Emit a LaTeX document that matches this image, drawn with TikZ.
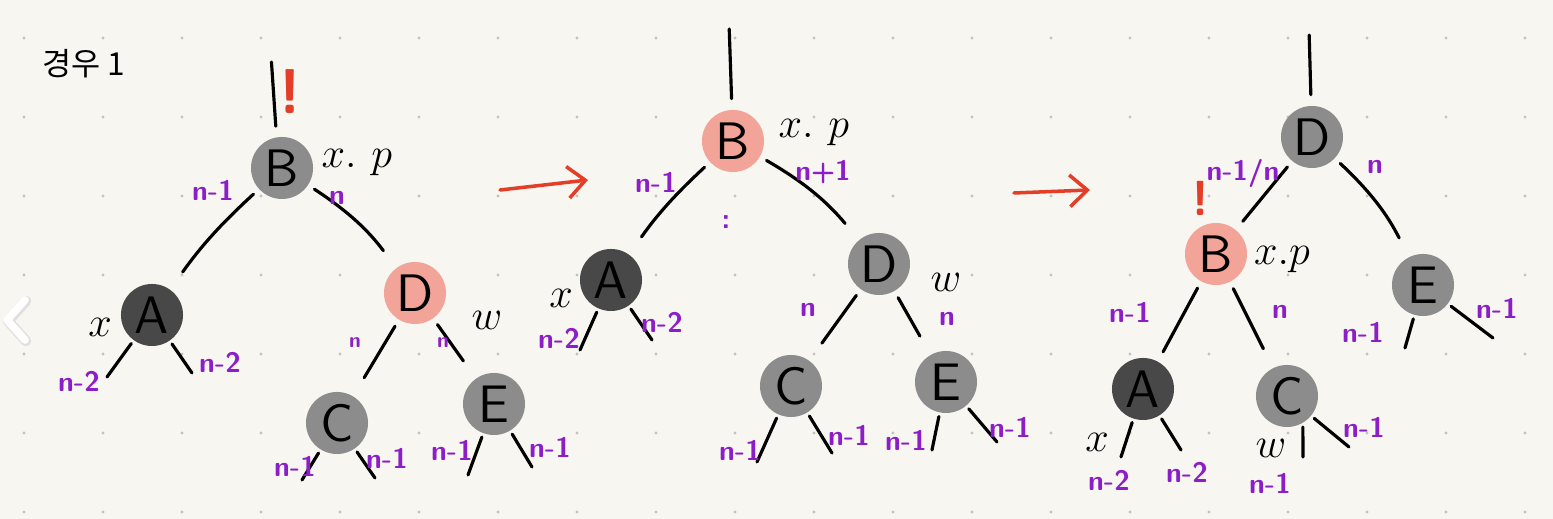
\documentclass[tikz,border=0pt]{standalone}
\usepackage{fontspec}
\newfontfamily\krfont{Noto Sans CJK KR}
\usetikzlibrary{arrows.meta}

\definecolor{paper}{RGB}{248,246,241}
\definecolor{griddot}{RGB}{196,194,190}
\definecolor{nodegray}{RGB}{140,140,140}
\definecolor{nodedark}{RGB}{72,72,72}
\definecolor{nodepink}{RGB}{242,164,152}
\definecolor{penred}{RGB}{228,62,40}
\definecolor{penviolet}{RGB}{140,30,200}

\begin{document}
\begin{tikzpicture}[
  x=0.01cm, y=-0.01cm,
  rbnode/.style={circle, minimum size=0.62cm, inner sep=0pt, font=\sffamily\fontsize{15}{15}\selectfont},
  graynode/.style={rbnode, fill=nodegray},
  darknode/.style={rbnode, fill=nodedark},
  pinknode/.style={rbnode, fill=nodepink},
  link/.style={line width=0.9pt, line cap=round, shorten <=2pt, shorten >=6pt},
  stub/.style={line width=0.9pt, line cap=round, shorten <=1pt},
  cnt/.style={font=\sffamily\bfseries\fontsize{8}{9}\selectfont, text=penviolet, inner sep=0pt},
  tinycnt/.style={cnt, font=\sffamily\bfseries\fontsize{6}{6}\selectfont},
  ptr/.style={font=\fontsize{13}{13}\selectfont, inner sep=0pt},
  bang/.style={text=penred, font=\sffamily\bfseries\fontsize{18}{18}\selectfont, inner sep=0pt},
  turn/.style={-{Straight Barb[length=5pt, width=9pt]}, penred, line width=1pt, line cap=round}
]

% paper and dot grid
\fill[paper] (0,0) rectangle (1553,519);
\useasboundingbox (0,0) rectangle (1553,519);
\foreach \i in {0,...,19}
  \foreach \j in {0,...,6}
    \fill[griddot] (24+79*\i, 38+79*\j) circle (0.45pt);
\draw[gray!25, line width=3pt, line cap=round, line join=round] (26,301) -- (8,321) -- (26,341);
\draw[white, line width=2.2pt, line cap=round, line join=round] (25,300) -- (7,320) -- (25,340);

\node[font=\krfont\fontsize{9}{9}\selectfont] (title) at (84,64) {경우 1};

% case 1, before
\coordinate (top1) at (271,55);
\node[graynode] (b1) at (282,168) {B};
\node[darknode] (a1) at (152,315) {A};
\node[pinknode] (d1) at (415,293) {D};
\node[graynode] (c1) at (337,423) {C};
\node[graynode] (e1) at (494,404) {E};
\coordinate (a1l) at (107,377);
\coordinate (a1r) at (192,373);
\coordinate (c1l) at (302,480);
\coordinate (c1r) at (375,478);
\coordinate (e1l) at (468,475);
\coordinate (e1r) at (532,467);

\draw[link, shorten >=3pt] (top1) -- (b1.100);
\draw[link] (b1) to[bend right=6] (a1);
\draw[link] (b1) to[bend left=10] (d1);
\draw[link] (d1) -- (c1);
\draw[link] (d1) -- (e1);
\draw[stub] (a1) -- (a1l);
\draw[stub] (a1) -- (a1r);
\draw[stub] (c1) -- (c1l);
\draw[stub] (c1) -- (c1r);
\draw[stub] (e1) -- (e1l);
\draw[stub] (e1) -- (e1r);

\node[bang] (bang1) at (290,92) {!};
\node[ptr] (xp1) at (357,163) {$x.\ p$};
\node[ptr] (x1) at (100,327) {$x$};
\node[ptr] (w1) at (487,320) {$w$};
\node[cnt] (h1) at (213,190) {n-1};
\node[cnt] (h2) at (337,198) {n};
\node[cnt] (h3) at (79,381) {n-2};
\node[cnt] (h4) at (220,362) {n-2};
\node[tinycnt] (h5) at (355,343) {n};
\node[tinycnt] (h6) at (443,343) {n};
\node[cnt] (h7) at (295,466) {n-1};
\node[cnt] (h8) at (387,458) {n-1};
\node[cnt] (h9) at (452,450) {n-1};
\node[cnt] (h10) at (550,447) {n-1};

\coordinate (go1) at (500,190);
\coordinate (to1) at (588,180);
\draw[turn] (go1) -- (to1);

% case 1, after recolouring
\coordinate (top2) at (729,22);
\node[pinknode] (b2) at (733,141) {B};
\node[darknode] (a2) at (611,280) {A};
\node[graynode] (d2) at (879,264) {D};
\node[graynode] (c2) at (791,386) {C};
\node[graynode] (e2) at (946,382) {E};
\coordinate (a2l) at (580,350);
\coordinate (a2r) at (652,340);
\coordinate (c2l) at (757,462);
\coordinate (c2r) at (832,453);
\coordinate (e2l) at (932,450);
\coordinate (e2r) at (997,442);

\draw[link, shorten >=3pt] (top2) -- (b2);
\draw[link] (b2) to[bend right=6] (a2);
\draw[link] (b2) to[bend left=10] (d2);
\draw[link] (d2) -- (c2);
\draw[link] (d2) -- (e2);
\draw[stub] (a2) -- (a2l);
\draw[stub] (a2) -- (a2r);
\draw[stub] (c2) -- (c2l);
\draw[stub] (c2) -- (c2r);
\draw[stub] (e2) -- (e2l);
\draw[stub] (e2) -- (e2r);

\node[ptr] (xp2) at (814,133) {$x.\ p$};
\node[ptr] (x2) at (561,298) {$x$};
\node[ptr] (w2) at (946,282) {$w$};
\node[cnt] (k1) at (656,182) {n-1};
\node[cnt] (k2) at (823,172) {n+1};
\node[cnt] (k3) at (726,222) {:};
\node[cnt] (k4) at (559,338) {n-2};
\node[cnt] (k5) at (662,322) {n-2};
\node[cnt] (k6) at (808,310) {n};
\node[cnt] (k7) at (947,319) {n};
\node[cnt] (k8) at (740,450) {n-1};
\node[cnt] (k9) at (849,435) {n-1};
\node[cnt] (k10) at (906,440) {n-1};
\node[cnt] (k11) at (1010,427) {n-1};

\coordinate (go2) at (1014,193);
\coordinate (to2) at (1090,190);
\draw[turn] (go2) -- (to2);

% case 1, after rotation
\coordinate (top3) at (1309,28);
\node[graynode] (d3) at (1312,137) {D};
\node[pinknode] (b3) at (1216,254) {B};
\node[graynode] (e3) at (1423,285) {E};
\node[darknode] (a3) at (1143,389) {A};
\node[graynode] (c3) at (1287,396) {C};
\coordinate (e3l) at (1405,348);
\coordinate (e3r) at (1493,338);
\coordinate (a3l) at (1121,457);
\coordinate (a3r) at (1181,450);
\coordinate (c3l) at (1303,457);
\coordinate (c3r) at (1349,447);

\draw[link, shorten >=3pt] (top3) -- (d3);
\draw[link, shorten >=3pt] (d3) -- (b3);
\draw[link] (d3) to[bend left=10] (e3);
\draw[link, shorten >=3pt] (b3) -- (a3);
\draw[link] (b3) -- (c3);
\draw[stub] (e3) -- (e3l);
\draw[stub] (e3) -- (e3r);
\draw[stub] (a3) -- (a3l);
\draw[stub] (a3) -- (a3r);
\draw[stub] (c3.-60) -- (c3l);
\draw[stub] (c3) -- (c3r);

\node[bang, font=\sffamily\bfseries\fontsize{14}{14}\selectfont] (bang3) at (1201,198) {!};
\node[ptr] (xp3) at (1282,260) {$x.p$};
\node[ptr] (x3) at (1097,442) {$x$};
\node[ptr] (w3) at (1271,448) {$w$};
\node[cnt] (m1) at (1243,173) {n-1/n};
\node[cnt] (m2) at (1375,167) {n};
\node[cnt] (m3) at (1363,332) {n-1};
\node[cnt] (m4) at (1497,308) {n-1};
\node[cnt] (m5) at (1130,312) {n-1};
\node[cnt] (m6) at (1280,312) {n};
\node[cnt] (m7) at (1109,480) {n-2};
\node[cnt] (m8) at (1187,472) {n-2};
\node[cnt] (m9) at (1270,483) {n-1};
\node[cnt] (m10) at (1364,427) {n-1};
\end{tikzpicture}
\end{document}
